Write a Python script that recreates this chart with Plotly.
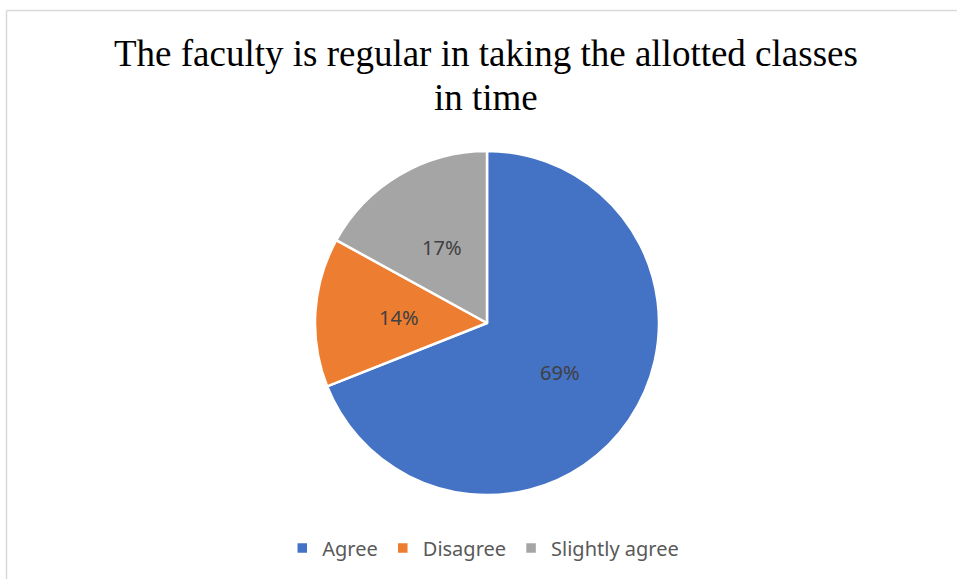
import math
import plotly.graph_objects as go

labels = ["Agree", "Disagree", "Slightly agree"]
values = [69, 14, 17]
colors = ["#4472C4", "#ED7D31", "#A5A5A5"]
title_lines = ["The faculty is regular in taking the allotted classes", "in time"]

W, H = 957, 579
cx, cy, r = 487, 323, 172

fig = go.Figure(go.Pie(
    labels=labels,
    values=values,
    sort=False,
    direction="clockwise",
    rotation=0,
    marker=dict(colors=colors, line=dict(color="white", width=2.5)),
    textinfo="none",
    domain=dict(x=[(cx - r) / W, (cx + r) / W], y=[(H - cy - r) / H, (H - cy + r) / H]),
    hoverinfo="label+percent",
))

# percent labels placed at half radius along each slice's mid-angle
annotations = []
total = sum(values)
cum = 0
for v in values:
    mid = (cum + v / 2) / total * 2 * math.pi
    cum += v
    px = cx + 0.51 * r * math.sin(mid)
    py = cy - 0.51 * r * math.cos(mid)
    annotations.append(dict(
        x=px / W, y=1 - py / H, xref="paper", yref="paper",
        text=f"{round(v / total * 100)}%", showarrow=False,
        xanchor="center", yanchor="middle",
        font=dict(family="Noto Sans", size=20, color="#404040"),
    ))

# two-line title
for line, yc in zip(title_lines, [53, 97]):
    annotations.append(dict(
        x=486.5 / W, y=1 - yc / H, xref="paper", yref="paper",
        text=line, showarrow=False, xanchor="center", yanchor="middle",
        font=dict(family="Liberation Serif", size=37, color="#000000"),
    ))

fig.update_layout(
    width=W, height=H,
    margin=dict(l=0, r=0, t=0, b=0),
    paper_bgcolor="white",
    annotations=annotations,
    legend=dict(orientation="h", x=0.505, xanchor="center", y=1 - 548 / H, yanchor="middle",
                font=dict(family="Noto Sans", size=20, color="#595959"),
                itemwidth=30, tracegroupgap=0),
    shapes=[
        dict(type="line", xref="paper", yref="paper", x0=6.5 / W, x1=6.5 / W, y0=0, y1=1 - 10.5 / H,
             line=dict(color="#D9D9D9", width=1.5)),
        dict(type="line", xref="paper", yref="paper", x0=6.5 / W, x1=1, y0=1 - 10.5 / H, y1=1 - 10.5 / H,
             line=dict(color="#D9D9D9", width=1.5)),
    ],
)

fig.write_html("out.html", config={"displayModeBar": False},
               post_script="document.body.style.margin='0';document.body.style.overflow='hidden';")
